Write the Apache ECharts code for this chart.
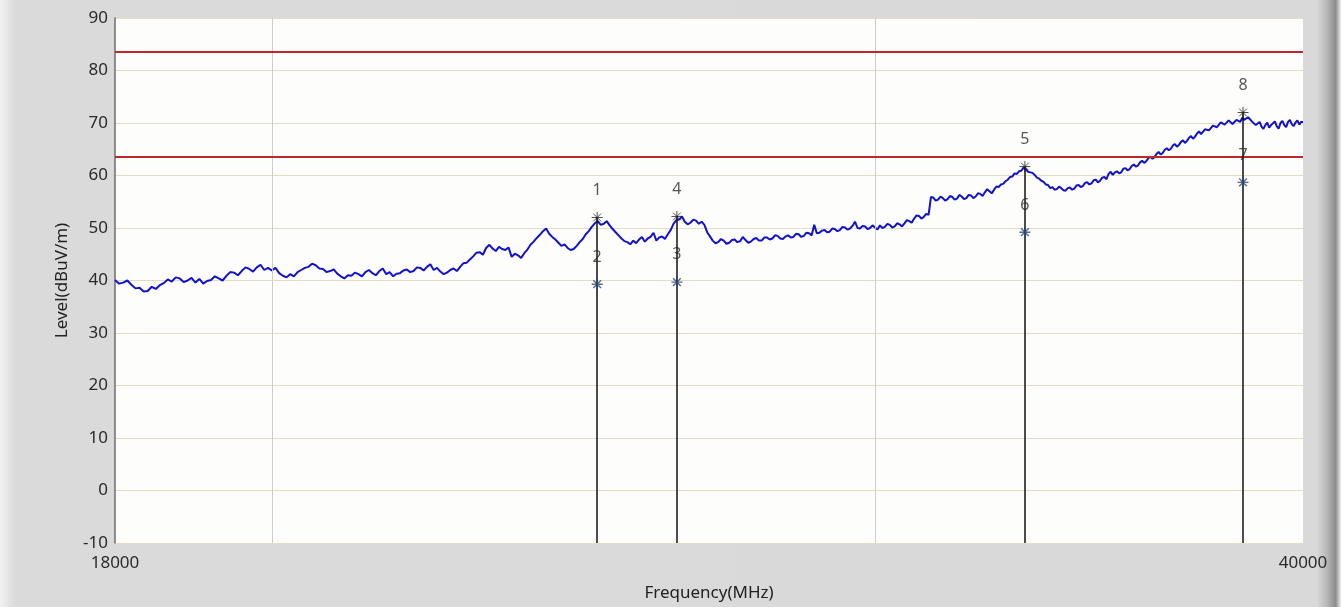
<!DOCTYPE html>
<html>
<head>
<meta charset="utf-8">
<script src="https://cdn.jsdelivr.net/npm/echarts@6/dist/echarts.min.js"></script>
<style>
html,body{margin:0;padding:0;background:#d9d9d9;}
#chart{width:1341px;height:607px;}
</style>
</head>
<body>
<div id="chart"></div>
<script>
// ---- data ----
const freqMHz = [
18000,18050,18100,18150,18200,18250,18300,18350,18400,18450,18500,18550,18600,18650,18700,18750,18800,18850,18900,18950,
19000,19050,19100,19150,19200,19250,19300,19350,19400,19450,19500,19550,19600,19650,19700,19750,19800,19850,19900,19950,
20000,20050,20100,20150,20200,20250,20300,20350,20400,20450,20500,20550,20600,20650,20700,20750,20800,20850,20900,20950,
21000,21050,21100,21150,21200,21250,21300,21350,21400,21450,21500,21550,21600,21650,21700,21750,21800,21850,21900,21950,
22000,22050,22100,22150,22200,22250,22300,22350,22400,22450,22500,22550,22600,22650,22700,22750,22800,22850,22900,22950,
23000,23050,23100,23150,23200,23250,23300,23350,23400,23450,23500,23550,23600,23650,23700,23750,23800,23850,23900,23950,
24000,24050,24100,24150,24200,24250,24300,24350,24400,24450,24500,24550,24600,24650,24700,24750,24800,24850,24900,24950,
25000,25050,25100,25150,25200,25250,25300,25350,25400,25450,25500,25550,25600,25650,25700,25750,25800,25850,25900,25950,
26000,26050,26100,26150,26200,26250,26300,26350,26400,26450,26500,26550,26600,26650,26700,26750,26800,26850,26900,26950,
27000,27050,27100,27150,27200,27250,27300,27350,27400,27450,27500,27550,27600,27650,27700,27750,27800,27850,27900,27950,
28000,28050,28100,28150,28200,28250,28300,28350,28400,28450,28500,28550,28600,28650,28700,28750,28800,28850,28900,28950,
29000,29050,29100,29150,29200,29250,29300,29350,29400,29450,29500,29550,29600,29650,29700,29750,29800,29850,29900,29950,
30000,30050,30100,30150,30200,30250,30300,30350,30400,30450,30500,30550,30600,30650,30700,30750,30800,30850,30900,30950,
31000,31050,31100,31150,31200,31250,31300,31350,31400,31450,31500,31550,31600,31650,31700,31750,31800,31850,31900,31950,
32000,32050,32100,32150,32200,32250,32300,32350,32400,32450,32500,32550,32600,32650,32700,32750,32800,32850,32900,32950,
33000,33050,33100,33150,33200,33250,33300,33350,33400,33450,33500,33550,33600,33650,33700,33750,33800,33850,33900,33950,
34000,34050,34100,34150,34200,34250,34300,34350,34400,34450,34500,34550,34600,34650,34700,34750,34800,34850,34900,34950,
35000,35050,35100,35150,35200,35250,35300,35350,35400,35450,35500,35550,35600,35650,35700,35750,35800,35850,35900,35950,
36000,36050,36100,36150,36200,36250,36300,36350,36400,36450,36500,36550,36600,36650,36700,36750,36800,36850,36900,36950,
37000,37050,37100,37150,37200,37250,37300,37350,37400,37450,37500,37550,37600,37650,37700,37750,37800,37850,37900,37950,
38000,38050,38100,38150,38200,38250,38300,38350,38400,38450,38500,38550,38600,38650,38700,38750,38800,38850,38900,38950,
39000,39050,39100,39150,39200,39250,39300,39350,39400,39450,39500,39550,39600,39650,39700,39750,39800,39850,39900,39950,
40000];
const levelDbuV = [
40.1,39.4,39.6,40.0,39.2,38.5,38.6,37.9,38.0,38.8,38.4,39.1,39.5,40.2,39.8,40.6,40.4,39.7,40.0,40.5,
39.6,40.3,39.4,39.9,40.1,40.8,40.4,40.0,40.9,41.6,41.5,41.0,41.8,42.5,42.2,41.7,42.5,43.0,42.0,42.4,
41.9,42.4,41.4,40.9,40.6,41.2,40.8,41.6,42.0,42.4,42.6,43.2,42.9,42.3,42.2,41.6,41.8,42.1,41.3,40.8,
40.4,41.0,40.9,41.5,41.2,40.8,41.6,42.0,41.4,41.0,41.8,42.3,41.2,41.6,40.8,41.3,41.4,41.9,42.1,41.6,
41.8,42.5,42.4,41.9,42.6,43.1,42.0,42.4,41.7,41.2,41.5,42.0,42.3,41.8,42.6,43.3,43.4,44.0,44.6,45.3,
45.4,44.9,46.2,46.8,46.1,45.6,46.4,46.0,45.8,46.3,44.5,45.1,44.8,44.3,45.2,45.9,46.8,47.4,48.1,48.7,
49.4,49.9,48.9,48.3,47.8,47.2,46.6,46.9,46.2,45.8,46.0,46.6,47.3,47.9,48.8,49.4,50.2,50.9,51.3,50.6,
50.8,51.3,50.5,49.8,49.2,48.6,48.0,47.5,47.3,46.9,47.6,47.1,47.8,48.3,47.4,48.0,48.3,49.1,47.6,48.2,
48.4,47.9,48.8,49.6,50.8,51.5,51.6,52.2,51.2,50.7,51.0,51.6,51.4,50.8,51.2,50.6,49.2,48.4,47.6,47.1,
47.3,47.9,47.6,47.0,47.2,47.7,47.8,47.3,47.5,48.3,47.7,47.2,47.4,47.9,48.1,47.6,47.6,48.2,48.2,47.8,
48.0,48.6,48.5,48.0,47.9,48.4,48.6,48.2,48.3,48.9,48.8,48.3,48.5,49.1,49.0,48.6,50.6,49.0,49.1,49.5,
49.6,49.2,49.3,49.9,49.8,49.4,49.6,50.2,50.1,49.7,49.9,50.4,51.2,50.0,49.9,50.4,50.3,49.8,50.0,50.5,
50.1,49.7,50.5,50.0,50.2,50.8,50.6,50.1,50.3,50.9,50.7,50.3,50.9,51.5,51.3,51.0,51.8,52.4,52.3,51.8,
52.1,52.7,52.5,55.9,55.8,55.2,55.4,56.0,55.7,55.2,55.5,56.1,55.9,55.4,55.6,56.3,56.0,55.5,55.7,56.3,
56.2,55.7,56.0,56.6,56.5,56.1,56.8,57.4,57.0,56.6,57.3,57.9,57.8,58.3,58.4,58.9,59.2,59.7,59.8,60.4,
60.3,60.8,60.9,61.5,61.2,60.7,60.6,60.5,60.1,59.6,59.4,59.0,58.8,58.3,58.2,57.6,57.8,57.3,57.4,57.9,
57.6,57.2,57.1,57.6,57.7,57.3,57.5,58.1,58.2,57.8,58.0,58.6,58.7,58.3,58.5,59.1,59.2,58.7,59.0,59.6,
59.7,59.3,60.3,60.7,60.1,60.6,60.8,60.4,60.6,61.3,61.4,61.0,61.2,61.8,62.1,61.7,61.9,62.5,62.8,62.4,
62.7,63.3,63.6,63.2,63.5,64.1,64.5,64.0,64.3,64.9,65.2,64.8,65.1,65.7,66.0,65.5,65.8,66.4,66.7,66.2,
66.6,67.2,67.5,67.0,67.4,68.0,68.4,67.9,68.2,68.8,69.1,68.6,68.9,69.5,69.8,69.2,69.5,70.1,70.2,69.7,
69.9,70.5,70.3,69.8,70.0,70.6,70.5,70.2,71.0,70.6,70.4,71.1,70.8,70.3,70.2,69.6,69.8,70.2,69.3,68.9,
69.6,70.1,69.1,69.6,69.7,70.3,69.4,68.9,70.0,70.4,69.6,69.2,70.2,70.6,69.8,69.4,70.1,70.5,69.7,70.2,
70.2];
const limitLines = [83.5, 63.5];
const gridFreqs = [20000, 30000];
const yTicks = {min: -10, max: 90, step: 10};
const xRange = {min: 18000, max: 40000};
const markerNo    = [1, 2, 3, 4, 5, 6, 7, 8];
const markerFreq  = [24890, 24890, 26260, 26260, 33180, 33180, 38420, 38420];
const markerLevel = [52.0, 39.3, 39.7, 52.2, 61.7, 49.2, 58.7, 72.0];
const markerKind  = ['pk', 'av', 'av', 'pk', 'pk', 'av', 'av', 'pk'];

// ---- chart ----
const FONT = 'Noto Sans';
const star = 'path://M5,0L5,10M0,5L10,5M1.5,1.5L8.5,8.5M1.5,8.5L8.5,1.5';
const trace = freqMHz.map((f, i) => [f, levelDbuV[i]]);
const pk = [], av = [];
markerNo.forEach((n, i) => {
  const d = [markerFreq[i], markerLevel[i], n];
  (markerKind[i] === 'pk' ? pk : av).push(d);
});

const chart = echarts.init(document.getElementById('chart'), null, {renderer: 'canvas'});
chart.setOption({
  animation: false,
  backgroundColor: {
    type: 'linear', x: 0, y: 0, x2: 1, y2: 0,
    colorStops: [
      {offset: 0, color: '#f2f2f2'}, {offset: 0.012, color: '#dadada'},
      {offset: 0.982, color: '#d9d9d9'}, {offset: 0.99, color: '#b5b5b5'},
      {offset: 0.996, color: '#8c8c8c'}, {offset: 1, color: '#f0f0f0'}
    ]
  },
  textStyle: {fontFamily: FONT},
  grid: {left: 115, right: 38, top: 18, bottom: 62, show: true,
         backgroundColor: '#fdfdfc', borderWidth: 0},
  xAxis: [{
    type: 'log', logBase: 10, min: xRange.min, max: xRange.max,
    axisLine: {show: false}, axisTick: {show: false},
    axisLabel: {show: false}, splitLine: {show: false}
  }, {
    type: 'value', min: xRange.min, max: xRange.max,
    interval: xRange.max - xRange.min, position: 'bottom',
    axisLine: {show: false}, axisTick: {show: false}, splitLine: {show: false},
    axisLabel: {show: true, margin: 12, fontSize: 17, color: '#2a2a2a', fontFamily: FONT,
                formatter: v => String(v)},
    name: 'Frequency(MHz)', nameLocation: 'middle', nameGap: 42,
    nameTextStyle: {fontSize: 17, color: '#222', fontFamily: FONT}
  }],
  yAxis: {
    type: 'value', min: yTicks.min, max: yTicks.max, interval: yTicks.step,
    axisLine: {show: true, lineStyle: {color: '#6d6d6d', width: 1.5}},
    axisTick: {show: false},
    axisLabel: {fontSize: 17, color: '#2a2a2a', margin: 7, fontFamily: FONT},
    splitLine: {show: true, lineStyle: {color: '#e4ddc4', width: 1}},
    name: 'Level(dBuV/m)', nameLocation: 'middle', nameGap: 44,
    nameTextStyle: {fontSize: 17, color: '#222', fontFamily: FONT}
  },
  series: [
    {
      type: 'line', data: [], z: 1, silent: true,
      markLine: {
        silent: true, symbol: ['none', 'none'], label: {show: false},
        lineStyle: {color: '#cccccc', width: 1, type: 'solid'},
        data: gridFreqs.map(f => ({xAxis: f}))
      }
    },
    {
      type: 'line', data: trace, z: 3, showSymbol: false, silent: true,
      lineStyle: {color: '#1212cc', width: 2},
      markLine: {
        silent: true, symbol: ['none', 'none'], label: {show: false},
        lineStyle: {color: '#c0262c', width: 2, type: 'solid'},
        data: limitLines.map(v => ({yAxis: v}))
      }
    },
    {
      type: 'scatter', data: pk, z: 5, symbol: star, symbolSize: 11,
      itemStyle: {color: 'rgba(0,0,0,0)', borderColor: '#222', borderWidth: 1},
      label: {show: true, position: 'top', distance: 13, fontSize: 16, color: '#2a2a2a',
              fontFamily: FONT, formatter: p => String(p.value[2])},
      markLine: {
        silent: true, symbol: ['none', 'none'], label: {show: false},
        lineStyle: {color: '#111', width: 1.5, type: 'solid'},
        data: pk.map(d => [{coord: [d[0], d[1]]}, {coord: [d[0], yTicks.min]}])
      }
    },
    {
      type: 'scatter', data: av, z: 5, symbol: star, symbolSize: 11,
      itemStyle: {color: 'rgba(0,0,0,0)', borderColor: '#2a4670', borderWidth: 1.4},
      label: {show: true, position: 'top', distance: 13, fontSize: 16, color: '#2a2a2a',
              fontFamily: FONT, formatter: p => String(p.value[2])}
    }
  ]
});
</script>
</body>
</html>
